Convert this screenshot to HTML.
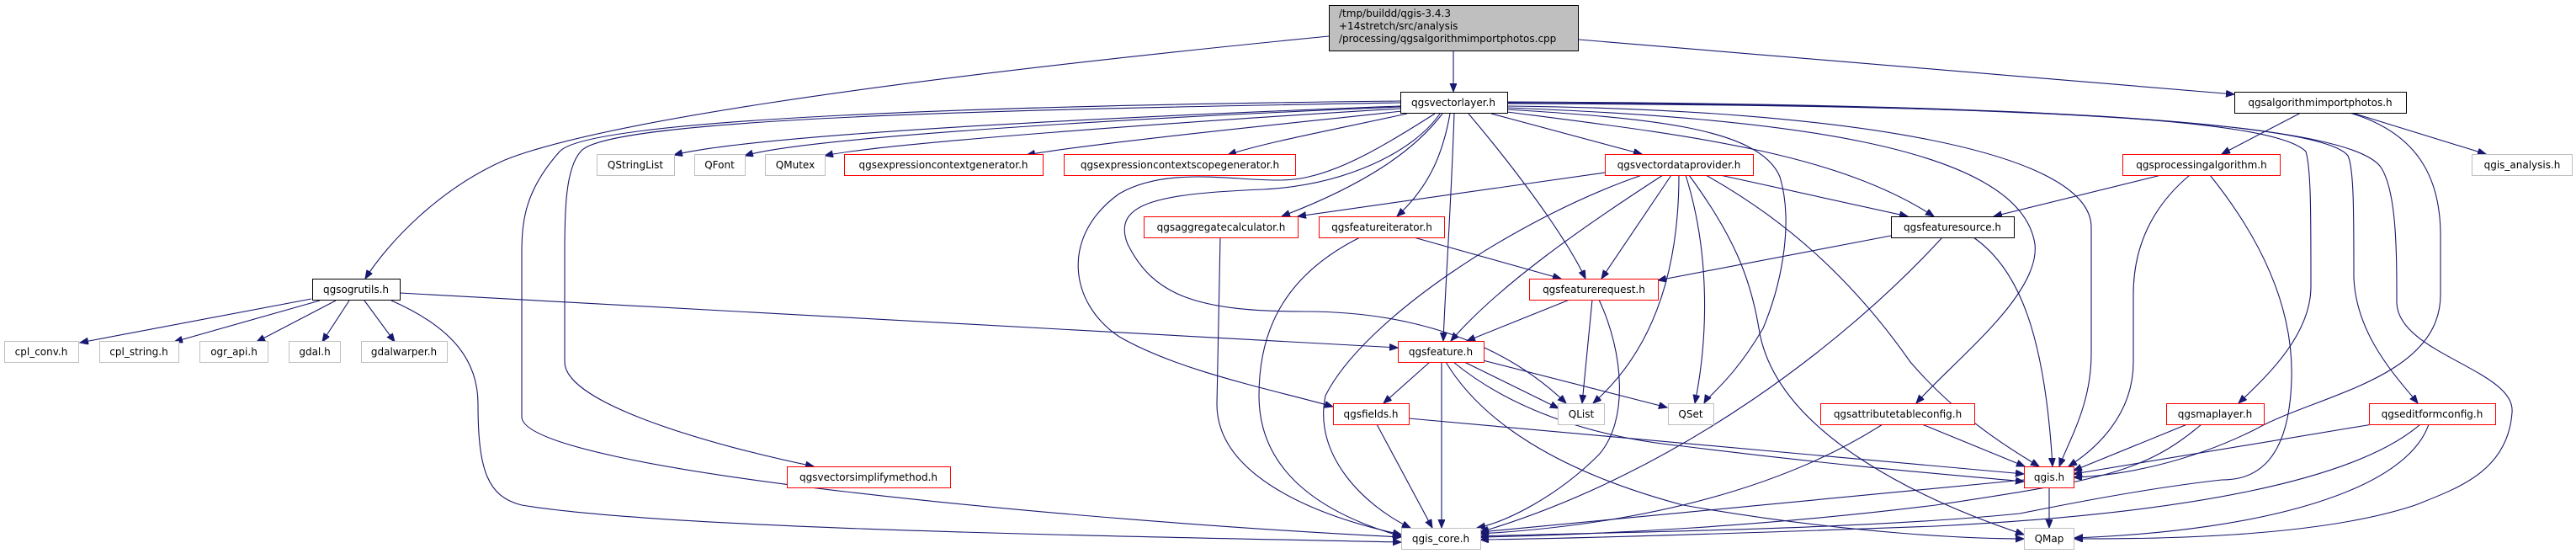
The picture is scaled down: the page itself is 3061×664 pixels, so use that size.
<!DOCTYPE html>
<html><head><meta charset="utf-8"><style>
html,body{margin:0;padding:0;background:#fff;}
svg{display:block;}
text{font-family:"DejaVu Sans","Liberation Sans",sans-serif;font-size:12px;fill:#000;}
.e{fill:none;stroke:#191970;stroke-width:1.1;marker-end:url(#a);}
.g{fill:#fff;stroke:#bfbfbf;stroke-width:1;}
.r{fill:#fff;stroke:#ff0000;stroke-width:1;}
.b{fill:#fff;stroke:#000;stroke-width:1;}
</style></head><body>
<svg width="3061" height="664" viewBox="0 0 3061 664" xmlns="http://www.w3.org/2000/svg">
<defs><marker id="a" markerUnits="userSpaceOnUse" markerWidth="11" markerHeight="9" refX="10" refY="4" orient="auto"><path d="M0,0 L10,4 L0,8 z" fill="#191970" stroke="#191970"/></marker></defs>

<!-- edges from main -->
<path class="e" d="M1727,61 L1727,109"/>
<path class="e" d="M1579,43 C1000,100 700,150 600,190 C520,225 460,290 434,331"/>
<path class="e" d="M1876,47 L2655,112"/>

<!-- vectorlayer edges -->
<path class="e" d="M1664,126 C1300,140 900,160 801,184"/>
<path class="e" d="M1664,127 C1300,142 950,165 885,185"/>
<path class="e" d="M1664,129 C1400,145 1050,170 980,185"/>
<path class="e" d="M1666,132 C1500,150 1300,170 1220,184"/>
<path class="e" d="M1672,135 C1580,155 1500,170 1459,184"/>
<path class="e" d="M1664,122 C1200,130 720,140 690,180 C672,200 671,250 671,300 L671,430 C671,480 850,530 967,554"/>
<path class="e" d="M1664,120 C1200,125 700,140 665,180 C625,225 620,260 620,300 L620,495 C620,560 1300,620 1665,638"/>
<path class="e" d="M1714,135 C1680,180 1620,220 1523,257"/>
<path class="e" d="M1723,135 C1715,180 1700,220 1660,257"/>
<path class="e" d="M1728,135 C1724,250 1718,330 1715,405"/>
<path class="e" d="M1745,135 C1800,200 1860,280 1884,331"/>
<path class="e" d="M1772,135 L1951,183"/>
<path class="e" d="M1705,135 C1650,170 1600,200 1555,210 C1500,225 1400,190 1330,230 C1260,280 1270,360 1330,400 C1400,440 1500,460 1584,483"/>
<path class="e" d="M1711,135 C1680,180 1600,220 1500,225 C1380,230 1320,240 1340,290 C1370,350 1420,370 1550,370 C1700,370 1800,420 1861,479"/>
<path class="e" d="M1791,133 C2000,160 2180,180 2298,257"/>
<path class="e" d="M1791,130 C1950,140 2090,150 2115,210 C2130,260 2120,330 2095,390 C2060,450 2030,470 2025,479"/>
<path class="e" d="M1791,128 C2100,140 2400,170 2418,290 C2425,350 2320,430 2277,479"/>
<path class="e" d="M1791,126 C2200,130 2485,180 2485,270 L2485,420 C2485,480 2460,520 2447,554"/>
<path class="e" d="M1791,123 C2400,125 2700,140 2740,180 C2746,200 2746,250 2746,340 C2746,400 2690,450 2660,479"/>
<path class="e" d="M1791,122 C2400,124 2760,145 2790,185 C2797,200 2797,250 2797,330 C2800,400 2850,450 2873,479"/>
<path class="e" d="M1791,121 C2500,124 2800,150 2830,200 C2848,230 2848,300 2848,360 C2850,420 2990,440 2985,490 C2980,560 2920,580 2870,600 C2750,640 2550,640 2465,640"/>

<!-- ogrutils edges -->
<path class="e" d="M370,355 L95,407"/>
<path class="e" d="M380,357 L207,406"/>
<path class="e" d="M399,357 L305,406"/>
<path class="e" d="M415,357 L383,406"/>
<path class="e" d="M433,357 L469,406"/>
<path class="e" d="M475,348 L1661,413"/>
<path class="e" d="M465,357 C540,390 568,430 568,480 C568,560 580,590 620,600 C800,630 1400,638 1665,644"/>

<!-- vectordataprovider edges -->
<path class="e" d="M1907,205 L1542,257"/>
<path class="e" d="M1976,208 C1880,270 1780,340 1724,405"/>
<path class="e" d="M1951,208 C1800,260 1620,380 1575,470 C1560,540 1620,600 1676,627"/>
<path class="e" d="M1986,208 L1903,331"/>
<path class="e" d="M1995,208 C1995,330 1960,420 1893,479"/>
<path class="e" d="M2003,208 C2032,300 2030,400 2014,479"/>
<path class="e" d="M2007,208 C2060,280 2080,330 2090,390 C2110,520 2300,600 2405,635"/>
<path class="e" d="M2044,208 L2267,257"/>
<path class="e" d="M2027,208 C2120,260 2200,330 2270,430 C2330,500 2400,540 2423,554"/>

<!-- aggregate / iterator / request -->
<path class="e" d="M1450,282 L1446,480 C1446,560 1550,610 1665,635"/>
<path class="e" d="M1616,282 C1520,330 1496,400 1496,470 C1496,560 1570,610 1665,637"/>
<path class="e" d="M1680,282 L1855,331"/>
<path class="e" d="M1865,356 L1743,405"/>
<path class="e" d="M1892,356 L1880,479"/>
<path class="e" d="M1900,356 C1930,420 1935,500 1900,540 C1850,590 1790,620 1755,627"/>

<!-- qgsfeature -->
<path class="e" d="M1699,430 L1644,479"/>
<path class="e" d="M1713,430 L1713,627"/>
<path class="e" d="M1740,430 L1852,485"/>
<path class="e" d="M1762,428 L1981,484"/>
<path class="e" d="M1727,430 C1800,490 1900,520 2000,530 C2200,555 2330,565 2405,572"/>
<path class="e" d="M1718,430 C1760,500 1850,560 2000,600 C2200,635 2350,640 2405,640"/>

<!-- qgsfields -->
<path class="e" d="M1674,497 L2405,563"/>
<path class="e" d="M1636,504 L1702,627"/>

<!-- featuresource -->
<path class="e" d="M2247,280 L1970,333"/>
<path class="e" d="M2308,282 C2200,400 2000,560 1759,632"/>
<path class="e" d="M2345,282 C2400,320 2430,400 2439,554"/>

<!-- algorithmimportphotos -->
<path class="e" d="M2734,134 L2640,183"/>
<path class="e" d="M2795,134 L2954,183"/>
<path class="e" d="M2792,134 C2880,160 2900,220 2900,280 L2900,350 C2900,450 2750,470 2680,510 C2600,550 2520,565 2464,567"/>

<!-- processingalgorithm -->
<path class="e" d="M2568,208 L2369,257"/>
<path class="e" d="M2602,208 C2540,260 2535,320 2535,350 L2535,430 C2535,500 2480,540 2458,554"/>
<path class="e" d="M2626,208 C2700,300 2725,380 2723,450 C2720,560 2670,570 2640,570 C2550,580 2450,600 2400,610 C2200,630 1900,632 1759,637"/>

<!-- attributetableconfig, maplayer, editformconfig -->
<path class="e" d="M2284,504 L2406,554"/>
<path class="e" d="M2237,504 C2150,560 2000,620 1759,634"/>
<path class="e" d="M2599,504 L2464,559"/>
<path class="e" d="M2616,504 C2550,560 2500,570 2300,600 C2100,625 1900,635 1759,638"/>
<path class="e" d="M2819,504 L2464,563"/>
<path class="e" d="M2876,504 C2800,570 2600,610 2300,625 C2000,636 1850,640 1759,641"/>
<path class="e" d="M2886,504 C2860,580 2700,630 2465,639"/>
<path class="e" d="M2435,578 L2435,627"/>
<path class="e" d="M2405,570 L1759,632"/>

<!-- nodes -->
<rect x="1579.5" y="6.5" width="296" height="54" fill="#bfbfbf" stroke="#000"/>
<text x="1591" y="20">/tmp/buildd/qgis-3.4.3</text>
<text x="1591" y="35">+14stretch/src/analysis</text>
<text x="1591" y="50">/processing/qgsalgorithmimportphotos.cpp</text>

<rect class="b" x="1664.5" y="109.5" width="127" height="25"/><text x="1727" y="126" text-anchor="middle">qgsvectorlayer.h</text>
<rect class="b" x="2655.5" y="109.5" width="204" height="25"/><text x="2757" y="126" text-anchor="middle">qgsalgorithmimportphotos.h</text>
<rect class="b" x="371.5" y="331.5" width="104" height="25"/><text x="423" y="348" text-anchor="middle">qgsogrutils.h</text>
<rect class="b" x="2247.5" y="257.5" width="146" height="25"/><text x="2320" y="274" text-anchor="middle">qgsfeaturesource.h</text>

<rect class="g" x="5.5" y="405.5" width="88" height="25"/><text x="49" y="422" text-anchor="middle">cpl_conv.h</text>
<rect class="g" x="118.5" y="405.5" width="94" height="25"/><text x="165" y="422" text-anchor="middle">cpl_string.h</text>
<rect class="g" x="237.5" y="405.5" width="81" height="25"/><text x="278" y="422" text-anchor="middle">ogr_api.h</text>
<rect class="g" x="343.5" y="405.5" width="61" height="25"/><text x="374" y="422" text-anchor="middle">gdal.h</text>
<rect class="g" x="429.5" y="405.5" width="102" height="25"/><text x="480" y="422" text-anchor="middle">gdalwarper.h</text>
<rect class="g" x="709.5" y="183.5" width="92" height="25"/><text x="755" y="200" text-anchor="middle">QStringList</text>
<rect class="g" x="825.5" y="183.5" width="60" height="25"/><text x="855" y="200" text-anchor="middle">QFont</text>
<rect class="g" x="909.5" y="183.5" width="71" height="25"/><text x="945" y="200" text-anchor="middle">QMutex</text>
<rect class="g" x="2937.5" y="183.5" width="119" height="25"/><text x="2997" y="200" text-anchor="middle">qgis_analysis.h</text>
<rect class="g" x="1851.5" y="479.5" width="55" height="25"/><text x="1879" y="496" text-anchor="middle">QList</text>
<rect class="g" x="1982.5" y="479.5" width="54" height="25"/><text x="2009" y="496" text-anchor="middle">QSet</text>
<rect class="g" x="1665.5" y="627.5" width="94" height="25"/><text x="1712" y="644" text-anchor="middle">qgis_core.h</text>
<rect class="g" x="2405.5" y="627.5" width="59" height="25"/><text x="2435" y="644" text-anchor="middle">QMap</text>

<rect class="r" x="1003.5" y="183.5" width="236" height="25"/><text x="1121" y="200" text-anchor="middle">qgsexpressioncontextgenerator.h</text>
<rect class="r" x="1264.5" y="183.5" width="275" height="25"/><text x="1402" y="200" text-anchor="middle">qgsexpressioncontextscopegenerator.h</text>
<rect class="r" x="1907.5" y="183.5" width="176" height="25"/><text x="1995" y="200" text-anchor="middle">qgsvectordataprovider.h</text>
<rect class="r" x="2522.5" y="183.5" width="187" height="25"/><text x="2616" y="200" text-anchor="middle">qgsprocessingalgorithm.h</text>
<rect class="r" x="1359.5" y="257.5" width="183" height="25"/><text x="1451" y="274" text-anchor="middle">qgsaggregatecalculator.h</text>
<rect class="r" x="1567.5" y="257.5" width="149" height="25"/><text x="1642" y="274" text-anchor="middle">qgsfeatureiterator.h</text>
<rect class="r" x="1817.5" y="331.5" width="153" height="25"/><text x="1894" y="348" text-anchor="middle">qgsfeaturerequest.h</text>
<rect class="r" x="1661.5" y="405.5" width="102" height="25"/><text x="1712" y="422" text-anchor="middle">qgsfeature.h</text>
<rect class="r" x="1584.5" y="479.5" width="90" height="25"/><text x="1629" y="496" text-anchor="middle">qgsfields.h</text>
<rect class="r" x="2163.5" y="479.5" width="183" height="25"/><text x="2255" y="496" text-anchor="middle">qgsattributetableconfig.h</text>
<rect class="r" x="2574.5" y="479.5" width="116" height="25"/><text x="2632" y="496" text-anchor="middle">qgsmaplayer.h</text>
<rect class="r" x="2815.5" y="479.5" width="150" height="25"/><text x="2890" y="496" text-anchor="middle">qgseditformconfig.h</text>
<rect class="r" x="935.5" y="554.5" width="194" height="25"/><text x="1032" y="571" text-anchor="middle">qgsvectorsimplifymethod.h</text>
<rect class="r" x="2405.5" y="554.5" width="59" height="25"/><text x="2435" y="571" text-anchor="middle">qgis.h</text>
</svg>
</body></html>
